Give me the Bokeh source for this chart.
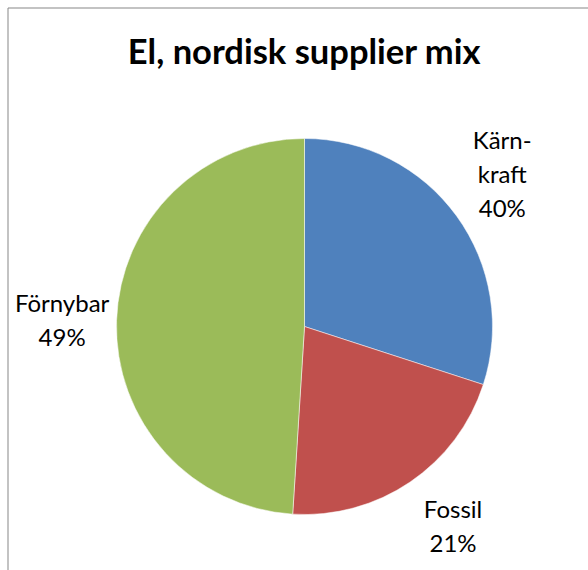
import math
from bokeh.plotting import figure
from bokeh.models import Range1d, ColumnDataSource
from bokeh.core.properties import value
from bokeh.embed import file_html
from bokeh.resources import INLINE

# ---- data ----
title_text = "El, nordisk supplier mix"
categories = ["Kärn-\nkraft", "Fossil", "Förnybar"]
values = [30, 21, 49]
pct_labels = ["40%", "21%", "49%"]
colors = ["#4F81BD", "#C0504D", "#9BBB59"]

W, H = 588, 570
p = figure(width=W, height=H, output_backend="svg", toolbar_location=None,
           x_range=Range1d(0, W), y_range=Range1d(0, H),
           min_border=0, min_border_left=0, min_border_right=0,
           min_border_top=0, min_border_bottom=0)
p.axis.visible = False
p.grid.visible = False
p.outline_line_color = None
p.background_fill_color = "white"
p.border_fill_color = "white"

# chart border (left and top visible in the window)
p.quad(left=[7.5], right=[W + 100], top=[H - 7.5], bottom=[-100],
       fill_color=None, line_color="#878787", line_width=1)

cx, cy, r = 304, 244, 188
total = sum(values)
starts, ends, mids = [], [], []
cum = 0
for v in values:
    a0 = math.pi / 2 - 2 * math.pi * cum / total
    cum += v
    a1 = math.pi / 2 - 2 * math.pi * cum / total
    starts.append(a0)
    ends.append(a1)
    mids.append((a0 + a1) / 2)

src = ColumnDataSource(dict(start=starts, end=ends, color=colors))
p.wedge(x=cx, y=cy, radius=r, start_angle="start", end_angle="end",
        direction="clock", fill_color="color", line_color="white",
        line_width=0.5, source=src)

# label placement (layout only)
lf = [1.32, 1.33, 1.29]
dx_px = [-3, 8, 0]
dy_px = [-7, -8, 1]
lx = [cx + f * r * math.cos(m) for f, m in zip(lf, mids)]
ly = [cy + f * r * math.sin(m) for f, m in zip(lf, mids)]
texts = [c + "\n" + t for c, t in zip(categories, pct_labels)]
lsrc = ColumnDataSource(dict(x=lx, y=ly, text=texts, xo=dx_px, yo=dy_px))
p.text(x="x", y="y", text="text", x_offset="xo", y_offset="yo", source=lsrc,
       text_align="center", text_baseline="middle",
       text_font=value("Lato"), text_font_size="24px", text_color="#000000",
       text_line_height=1.18)

p.text(x=[cx], y=[H - 50], text=[title_text], text_align="center",
       text_baseline="middle", text_font=value("Lato"),
       text_font_style="bold", text_font_size="34.5px", text_color="#000000")

open("out.html", "w").write(file_html(p, INLINE))
